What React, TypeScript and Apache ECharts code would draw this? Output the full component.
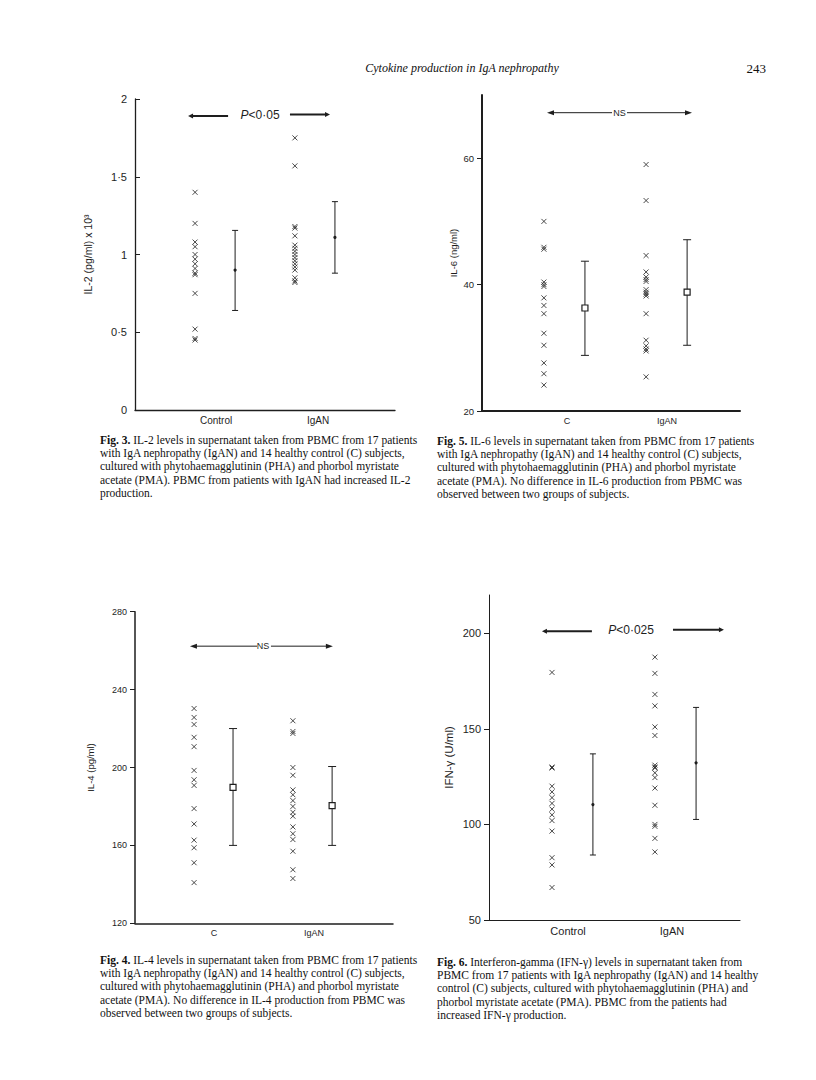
import React, { useEffect, useRef } from "react";
import * as echarts from "echarts";

// ---------- data ----------
const groupsLong = ["Control", "IgAN"];
const groupsShort = ["C", "IgAN"];

const il2Control = [1.4, 1.2, 1.08, 1.05, 1.0, 0.97, 0.94, 0.91, 0.88, 0.87, 0.75, 0.52, 0.46, 0.45];
const il2IgAN = [1.75, 1.57, 1.18, 1.17, 1.12, 1.06, 1.04, 1.02, 1.0, 0.98, 0.96, 0.94, 0.92, 0.9, 0.85, 0.83, 0.82];
const il2Mean = [0.9, 1.11];
const il2Low = [0.64, 0.88];
const il2High = [1.155, 1.34];
const il2Ticks = [0, 0.5, 1, 1.5, 2];
const il2TickLabels = ["0", "0·5", "1", "1·5", "2"];

const il6Control = [50, 45.9, 45.6, 40.4, 40.0, 39.7, 37.9, 36.7, 35.4, 32.3, 30.4, 27.6, 25.9, 24.1];
const il6IgAN = [59, 53.3, 44.6, 42, 41.2, 40.8, 40.5, 39.2, 38.8, 38.5, 38.2, 35.4, 31.2, 30.3, 29.8, 29.5, 25.4];
const il6Mean = [36.3, 38.8];
const il6Low = [28.8, 30.4];
const il6High = [43.7, 47.1];
const il6Ticks = [20, 40, 60];

const il4Control = [230.3, 225.7, 222.1, 215.5, 210.7, 198.5, 193.7, 190.8, 178.9, 171, 162.7, 158.8, 151.1, 140.9];
const il4IgAN = [224, 218.5, 217.5, 200, 196, 188.5, 186, 183, 180, 177, 175, 169.5, 166, 163, 157, 147.5, 143];
const il4Mean = [189.8, 180.4];
const il4Low = [160, 160];
const il4High = [220, 200.5];
const il4Ticks = [120, 160, 200, 240, 280];

const ifnControl = [179.5, 130, 129.5, 120, 117, 114, 111, 108, 105, 102, 96.5, 82.6, 78.8, 67];
const ifnIgAN = [187.5, 179, 168, 162, 151, 146.5, 131, 130, 129.5, 127, 124.5, 119, 110, 100, 99, 92.7, 85.6];
const ifnMean = [110.4, 132.2];
const ifnLow = [84, 102.6];
const ifnHigh = [136.9, 161.2];
const ifnTicks = [50, 100, 150, 200];

const annotationTexts = ["P<0·05", "NS", "NS", "P<0·025"];
const annotationValues = [1.89, 67.2, 262.3, 201];

const headerTitle = "Cytokine production in IgA nephropathy";
const pageNumber = "243";

const caption3 = [
  "IL-2 levels in supernatant taken from PBMC from 17 patients",
  "with IgA nephropathy (IgAN) and 14 healthy control (C) subjects,",
  "cultured with phytohaemagglutinin (PHA) and phorbol myristate",
  "acetate (PMA). PBMC from patients with IgAN had increased IL-2",
  "production.",
];
const caption5 = [
  "IL-6 levels in supernatant taken from PBMC from 17 patients",
  "with IgA nephropathy (IgAN) and 14 healthy control (C) subjects,",
  "cultured with phytohaemagglutinin (PHA) and phorbol myristate",
  "acetate (PMA). No difference in IL-6 production from PBMC was",
  "observed between two groups of subjects.",
];
const caption4 = [
  "IL-4 levels in supernatant taken from PBMC from 17 patients",
  "with IgA nephropathy (IgAN) and 14 healthy control (C) subjects,",
  "cultured with phytohaemagglutinin (PHA) and phorbol myristate",
  "acetate (PMA). No difference in IL-4 production from PBMC was",
  "observed between two groups of subjects.",
];
const caption6 = [
  "Interferon-gamma (IFN-γ) levels in supernatant taken from",
  "PBMC from 17 patients with IgA nephropathy (IgAN) and 14 healthy",
  "control (C) subjects, cultured with phytohaemagglutinin (PHA) and",
  "phorbol myristate acetate (PMA). PBMC from the patients had",
  "increased IFN-γ production.",
];

// ---------- layout ----------
const INK = "#1e1e1e";
const CROSS = "path://M0,0L10,10M0,10L10,0";

type Panel = {
  grid: { left: number; top: number; width: number; height: number };
  min: number;
  max: number;
  ticks: number[];
  tickLabels?: string[];
  cats: string[];
  ptsX: [number, number];
  meanX: [number, number];
  labelX: [number, number];
  control: number[];
  igan: number[];
  mean: number[];
  low: number[];
  high: number[];
  yName: string;
  nameGap: number;
  nameSize: number;
  tickSize: number;
  catSize: number;
  axisWidth: number;
  tickInside: boolean;
  markerType: "dot" | "square";
  cap: number;
  symSize: number;
  annText: string;
  annY: number;
  ann: [number, number, number, number, number];
  annRightDy: number;
  annLW: number;
  annItalic: boolean;
};

const panels: Panel[] = [
  {
    grid: { left: 135, top: 99, width: 260, height: 311 },
    min: 0, max: 2, ticks: il2Ticks, tickLabels: il2TickLabels,
    cats: groupsLong, ptsX: [23.1, 61.5], meanX: [38.5, 76.9], labelX: [31.2, 70.4],
    control: il2Control, igan: il2IgAN, mean: il2Mean, low: il2Low, high: il2High,
    yName: "IL-2 (pg/ml) x 10³", nameGap: 42, nameSize: 10.5, tickSize: 11, catSize: 10,
    axisWidth: 1.3, tickInside: true, markerType: "dot", cap: 3, symSize: 5,
    annText: annotationTexts[0], annY: annotationValues[0],
    ann: [20.4, 35.8, 48.1, 59.6, 75], annRightDy: -1.5, annLW: 2, annItalic: true,
  },
  {
    grid: { left: 482, top: 95, width: 258, height: 316 },
    min: 20, max: 70, ticks: il6Ticks,
    cats: groupsShort, ptsX: [24, 63.6], meanX: [39.9, 79.5], labelX: [32.9, 71.7],
    control: il6Control, igan: il6IgAN, mean: il6Mean, low: il6Low, high: il6High,
    yName: "IL-6 (ng/ml)", nameGap: 24, nameSize: 9.5, tickSize: 9.5, catSize: 9,
    axisWidth: 2, tickInside: false, markerType: "square", cap: 4, symSize: 5,
    annText: annotationTexts[1], annY: annotationValues[1],
    ann: [25.2, 50.4, 53.3, 56.2, 81.4], annRightDy: 0, annLW: 1, annItalic: false,
  },
  {
    grid: { left: 135, top: 611.7, width: 258, height: 311.6 },
    min: 120, max: 280, ticks: il4Ticks,
    cats: groupsShort, ptsX: [22.9, 61.2], meanX: [38, 76.4], labelX: [30.6, 69.4],
    control: il4Control, igan: il4IgAN, mean: il4Mean, low: il4Low, high: il4High,
    yName: "IL-4 (pg/ml)", nameGap: 40, nameSize: 9.5, tickSize: 9, catSize: 9,
    axisWidth: 1.5, tickInside: false, markerType: "square", cap: 4, symSize: 5,
    annText: annotationTexts[2], annY: annotationValues[2],
    ann: [21.3, 47.3, 49.6, 52.7, 76.7], annRightDy: 0, annLW: 1, annItalic: false,
  },
  {
    grid: { left: 489, top: 595, width: 251, height: 325 },
    min: 50, max: 220, ticks: ifnTicks,
    cats: groupsLong, ptsX: [25.1, 66.1], meanX: [41.4, 82.5], labelX: [31.5, 72.9],
    control: ifnControl, igan: ifnIgAN, mean: ifnMean, low: ifnLow, high: ifnHigh,
    yName: "IFN-γ (U/ml)", nameGap: 34, nameSize: 11.5, tickSize: 11, catSize: 11,
    axisWidth: 1, tickInside: false, markerType: "dot", cap: 3, symSize: 5,
    annText: annotationTexts[3], annY: annotationValues[3],
    ann: [21.1, 41, 56.6, 73.3, 93.6], annRightDy: -1.5, annLW: 2, annItalic: true,
  },
];

function buildOption() {
  const grid: any[] = [];
  const xAxis: any[] = [];
  const yAxis: any[] = [];
  const series: any[] = [];

  panels.forEach((p, i) => {
    grid.push({ ...p.grid, outerBoundsMode: "none", containLabel: false });
    xAxis.push({
      type: "value",
      gridIndex: i,
      min: 0,
      max: 100,
      splitLine: { show: false },
      axisTick: { show: false },
      axisLine: { lineStyle: { color: INK, width: p.axisWidth } },
      axisLabel: {
        customValues: p.labelX,
        formatter: (v: number) => (Math.abs(v - p.labelX[0]) < 0.01 ? p.cats[0] : p.cats[1]),
        color: INK,
        fontFamily: "Liberation Sans, Arial, sans-serif",
        fontSize: p.catSize,
        margin: 5,
      },
    });
    yAxis.push({
      type: "value",
      gridIndex: i,
      min: p.min,
      max: p.max,
      splitLine: { show: false },
      axisLine: { lineStyle: { color: INK, width: p.axisWidth } },
      axisTick: {
        customValues: p.ticks,
        inside: p.tickInside,
        length: 5,
        lineStyle: { color: INK, width: 1 },
      },
      axisLabel: {
        customValues: p.ticks,
        formatter: (v: number) => {
          if (p.tickLabels) {
            const k = p.ticks.indexOf(v);
            return k >= 0 ? p.tickLabels[k] : "";
          }
          return String(v);
        },
        color: INK,
        fontFamily: "Liberation Sans, Arial, sans-serif",
        fontSize: p.tickSize,
        margin: 8,
      },
      name: p.yName,
      nameLocation: "middle",
      nameGap: p.nameGap,
      nameTextStyle: {
        color: INK,
        fontFamily: "Liberation Sans, Arial, sans-serif",
        fontSize: p.nameSize,
      },
    });

    // individual values
    [p.control, p.igan].forEach((vals, g) => {
      series.push({
        type: "scatter",
        xAxisIndex: i,
        yAxisIndex: i,
        symbol: CROSS,
        symbolSize: p.symSize,
        itemStyle: { color: "transparent", borderColor: INK, borderWidth: 1 },
        data: vals.map((v) => [p.ptsX[g], v]),
        silent: true,
      });
    });

    // mean ± range
    series.push({
      type: "custom",
      xAxisIndex: i,
      yAxisIndex: i,
      silent: true,
      data: p.mean.map((m, g) => [p.meanX[g], m, p.low[g], p.high[g]]),
      renderItem: (params: any, api: any) => {
        const x = api.value(0);
        const pm = api.coord([x, api.value(1)]);
        const pl = api.coord([x, api.value(2)]);
        const ph = api.coord([x, api.value(3)]);
        const c = p.cap;
        const children: any[] = [
          { type: "line", shape: { x1: pl[0], y1: pl[1], x2: ph[0], y2: ph[1] }, style: { stroke: INK, lineWidth: 1 } },
          { type: "line", shape: { x1: pl[0] - c, y1: pl[1], x2: pl[0] + c, y2: pl[1] }, style: { stroke: INK, lineWidth: 1 } },
          { type: "line", shape: { x1: ph[0] - c, y1: ph[1], x2: ph[0] + c, y2: ph[1] }, style: { stroke: INK, lineWidth: 1 } },
        ];
        if (p.markerType === "square") {
          children.push({
            type: "rect",
            shape: { x: pm[0] - 3, y: pm[1] - 3, width: 6, height: 6 },
            style: { fill: "#fff", stroke: INK, lineWidth: 1.2 },
          });
        } else {
          children.push({ type: "circle", shape: { cx: pm[0], cy: pm[1], r: 1.6 }, style: { fill: INK } });
        }
        return { type: "group", children };
      },
    });

    // significance arrow annotation
    series.push({
      type: "custom",
      xAxisIndex: i,
      yAxisIndex: i,
      silent: true,
      data: [[p.ann[0], p.annY, p.ann[1], p.ann[2], p.ann[3], p.ann[4]]],
      renderItem: (params: any, api: any) => {
        const y = api.value(1);
        const a = api.coord([api.value(0), y]);
        const b = api.coord([api.value(2), y]);
        const t = api.coord([api.value(3), y]);
        const c = api.coord([api.value(4), y]);
        const d = api.coord([api.value(5), y]);
        const yy = a[1];
        const yr = yy + p.annRightDy;
        const hl = p.annLW > 1 ? 5 : 7;
        const hw = 2.5;
        const rich = { i: { fontStyle: "italic", fontSize: p.annItalic ? 12 : 9, fontFamily: "Liberation Sans, Arial, sans-serif", fill: INK } };
        return {
          type: "group",
          children: [
            { type: "line", shape: { x1: a[0] + hl - 1, y1: yy, x2: b[0], y2: yy }, style: { stroke: INK, lineWidth: p.annLW } },
            { type: "polygon", shape: { points: [[a[0], yy], [a[0] + hl, yy - hw], [a[0] + hl, yy + hw]] }, style: { fill: INK } },
            { type: "line", shape: { x1: c[0], y1: yr, x2: d[0] - hl + 1, y2: yr }, style: { stroke: INK, lineWidth: p.annLW } },
            { type: "polygon", shape: { points: [[d[0], yr], [d[0] - hl, yr - hw], [d[0] - hl, yr + hw]] }, style: { fill: INK } },
            {
              type: "text",
              x: t[0],
              y: yy - (p.annItalic ? 1 : 0),
              style: {
                text: p.annItalic ? "{i|P}<" + p.annText.slice(2) : p.annText,
                rich,
                fill: INK,
                fontFamily: "Liberation Sans, Arial, sans-serif",
                fontSize: p.annItalic ? 12 : 9,
                align: "center",
                verticalAlign: "middle",
              },
            },
          ],
        };
      },
    });
  });

  const serif = "Liberation Serif, Times New Roman, serif";
  const captionEls: any[] = [];
  const addCaption = (lines: string[], fig: string, x: number, y0: number) => {
    lines.forEach((ln, k) => {
      captionEls.push({
        type: "text",
        x,
        y: y0 + k * 13.2,
        style: {
          text: k === 0 ? "{b|Fig. " + fig + ".} " + ln : ln,
          rich: { b: { fontWeight: "bold", fontFamily: serif, fontSize: 11.5, fill: "#111" } },
          fill: "#111",
          fontFamily: serif,
          fontSize: 11.5,
          verticalAlign: "middle",
        },
      });
    });
  };
  addCaption(caption3, "3", 100, 440);
  addCaption(caption5, "5", 437, 441);
  addCaption(caption4, "4", 100, 960);
  addCaption(caption6, "6", 437, 962);

  return {
    animation: false,
    backgroundColor: "#fff",
    grid,
    xAxis,
    yAxis,
    series,
    graphic: [
      {
        type: "text",
        x: 462,
        y: 68,
        style: {
          text: headerTitle,
          fill: "#111",
          fontFamily: serif,
          fontStyle: "italic",
          fontSize: 12,
          align: "center",
          verticalAlign: "middle",
        },
      },
      {
        type: "text",
        x: 766,
        y: 68,
        style: {
          text: pageNumber,
          fill: "#111",
          fontFamily: serif,
          fontSize: 13,
          align: "right",
          verticalAlign: "middle",
        },
      },
      ...captionEls,
    ],
  };
}

export default function App() {
  const ref = useRef<HTMLDivElement>(null);
  useEffect(() => {
    if (!ref.current) return;
    const chart = echarts.init(ref.current, undefined, { renderer: "svg" });
    chart.setOption(buildOption() as any);
    return () => chart.dispose();
  }, []);
  return (
    <div
      ref={ref}
      style={{ position: "absolute", left: 0, top: 0, width: 816, height: 1080, background: "#fff" }}
    />
  );
}
